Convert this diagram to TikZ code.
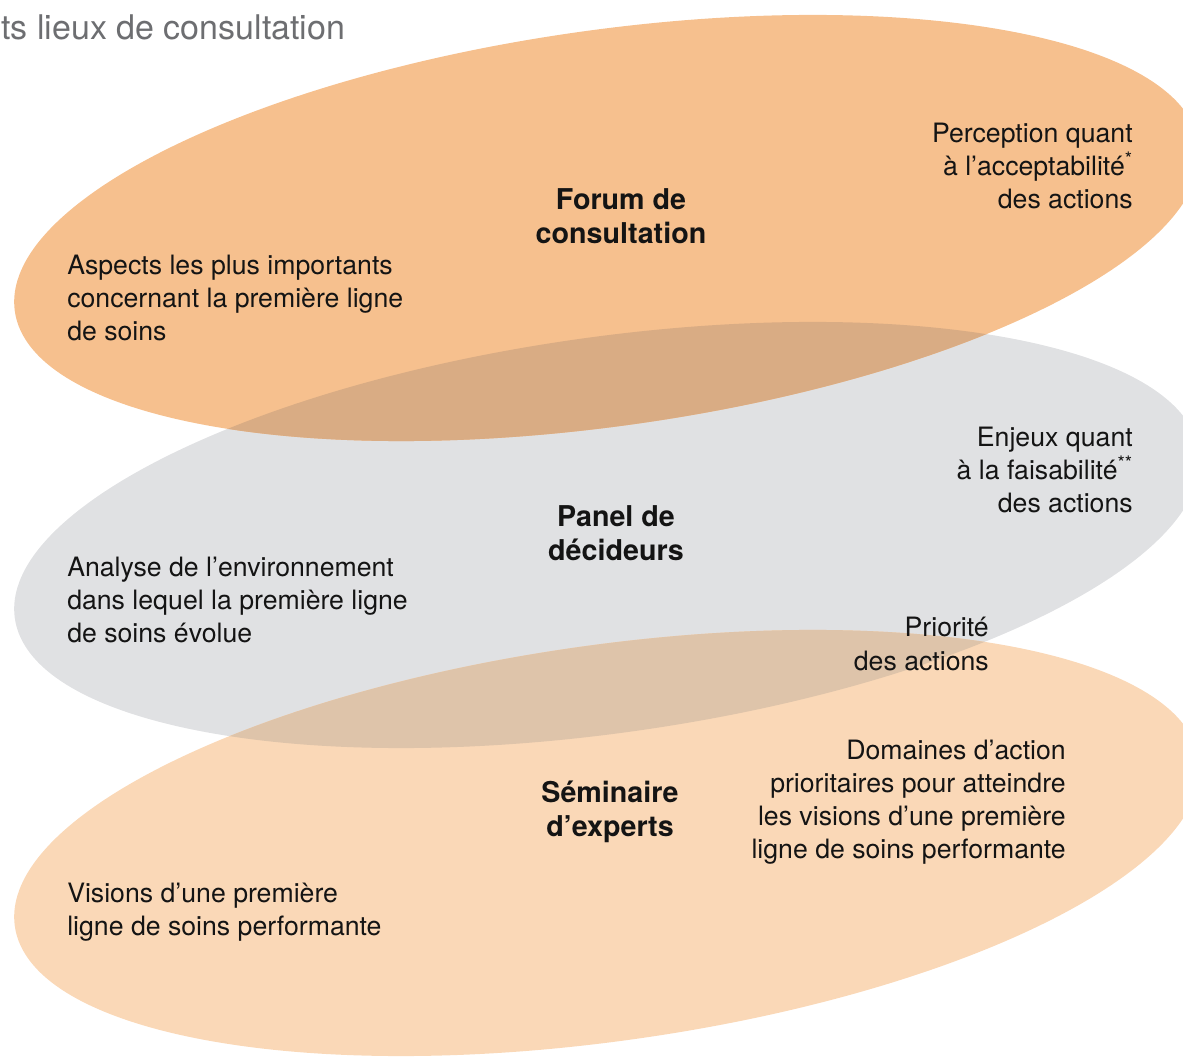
\documentclass[tikz,border=0pt]{standalone}
\usepackage{fontspec}
\setmainfont{TeX Gyre Heros}
\definecolor{orangeA}{RGB}{246,192,142}
\definecolor{grayB}{RGB}{224,225,227}
\definecolor{orangeC}{RGB}{250,216,183}
\definecolor{overAB}{RGB}{217,172,132}
\definecolor{overBC}{RGB}{222,196,170}
\definecolor{titlegray}{RGB}{109,110,113}
\definecolor{txt}{RGB}{20,20,20}
\tikzset{
  body/.style={font=\fontsize{20}{24.8}\selectfont, text=txt, align=left, inner sep=0pt},
  bodyr/.style={body, align=right},
  head/.style={font=\bfseries\fontsize{21.5}{25.5}\selectfont, text=txt, align=center, inner sep=0pt},
  ell/.style={x radius=448.5pt, y radius=148.5pt}
}
\begin{document}
\begin{tikzpicture}[x=0.75pt,y=-0.75pt]
\useasboundingbox (0,0) rectangle (1183,1062);
\clip (0,0) rectangle (1183,1062);
\coordinate (c1) at (607,228);
\coordinate (c2) at (607,535);
\coordinate (c3) at (607,843);
% ellipses
\fill[grayB, rotate around={8:(c2)}] (c2) ellipse [ell];
\fill[orangeA, rotate around={8:(c1)}] (c1) ellipse [ell];
\fill[orangeC, rotate around={8:(c3)}] (c3) ellipse [ell];
\begin{scope}
  \clip[rotate around={8:(c1)}] (c1) ellipse [ell];
  \fill[overAB, rotate around={8:(c2)}] (c2) ellipse [ell];
\end{scope}
\begin{scope}
  \clip[rotate around={8:(c3)}] (c3) ellipse [ell];
  \fill[overBC, rotate around={8:(c2)}] (c2) ellipse [ell];
\end{scope}
% title
\node[font=\fontsize{25.5}{30}\selectfont, text=titlegray, anchor=west, inner sep=0pt] (title) at (1,27) {ts lieux de consultation};
% top ellipse texts
\node[head] (forum) at (621,216) {Forum de\\consultation};
\node[body, anchor=west] (aspects) at (67,298) {Aspects les plus importants\\concernant la première ligne\\de soins};
\node[bodyr, anchor=east] (perception) at (1133,166) {Perception quant\\à l’acceptabilité\textsuperscript{*}\\des actions};
% gray ellipse texts
\node[head] (panel) at (616,533) {Panel de\\décideurs};
\node[bodyr, anchor=east] (enjeux) at (1133,470) {Enjeux quant\\à la faisabilité\textsuperscript{**}\\des actions};
\node[body, anchor=west] (analyse) at (67,600) {Analyse de l’environnement\\dans lequel la première ligne\\de soins évolue};
\node[bodyr, anchor=east] (priorite) at (989,644) {Priorité\\des actions};
% bottom ellipse texts
\node[head] (seminaire) at (610,812) {Séminaire\\d’experts};
\node[bodyr, anchor=east] (domaines) at (1066,802) {Domaines d’action\\prioritaires pour atteindre\\les visions d’une première\\ligne de soins performante};
\node[body, anchor=west] (visions) at (67,912) {Visions d’une première\\ligne de soins performante};
\end{tikzpicture}
\end{document}
